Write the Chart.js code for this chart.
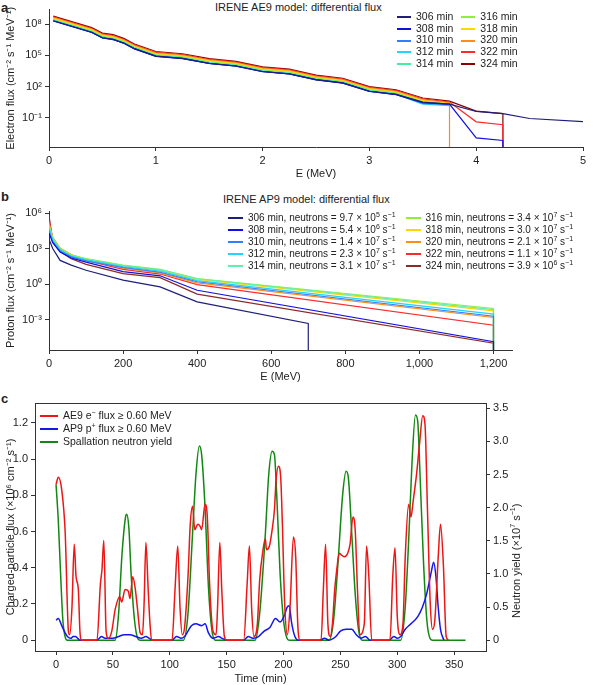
<!DOCTYPE html>
<html><head><meta charset="utf-8">
<script src="https://cdn.jsdelivr.net/npm/chart.js@4.4.1/dist/chart.umd.min.js"></script>
<style>
body{margin:0;background:#fff;font-family:"Liberation Sans",Arial,sans-serif;color:#222;overflow:hidden}
canvas{position:absolute;left:0}
.lab{position:absolute;font-weight:bold;font-size:13px}
.ttl{position:absolute;font-size:11px}
.leg{position:absolute;display:grid;grid-auto-flow:column;white-space:nowrap}
.leg span i{display:inline-block;height:0;border-top:2px solid;vertical-align:middle;margin-right:5px}
sup{font-size:7px;line-height:0}
.rot{position:absolute;font-size:11px;transform:rotate(-90deg);transform-origin:left top;white-space:nowrap}
</style></head><body>
<div class="lab" style="left:1px;top:0">a</div>
<div class="lab" style="left:1px;top:189px">b</div>
<div class="lab" style="left:1px;top:391px">c</div>
<div class="ttl" style="left:215px;top:1px">IRENE AE9 model: differential flux</div>
<div class="ttl" style="left:223px;top:193px">IRENE AP9 model: differential flux</div>
<canvas id="chartA" style="top:0" width="598" height="185"></canvas>
<canvas id="chartB" style="top:190px" width="598" height="198"></canvas>
<canvas id="chartC" style="top:390px" width="598" height="300"></canvas>
<div class="rot" style="left:510px;top:618px">Neutron yield (×10<sup>7</sup> s<sup>−1</sup>)</div>
<div class="leg" id="legA" style="left:397px;top:11px;grid-template-rows:repeat(5,11.7px);column-gap:8px;font-size:10.5px;line-height:11.7px"></div>
<div class="leg" id="legB" style="left:228px;top:212px;grid-template-rows:repeat(5,12px);column-gap:10px;font-size:10px;line-height:12px"></div>
<div class="leg" id="legC" style="left:40px;top:409px;grid-template-rows:repeat(3,13px);font-size:10.5px;line-height:13px"></div>
<script>
const minutes = [306, 308, 310, 312, 314, 316, 318, 320, 322, 324];
const colorsA = ['#1f1f7a', '#1010e0', '#2f7fff', '#22d4ff', '#40f0a0', '#90ee40', '#ffd700', '#ff8c1a', '#ff2a2a', '#8b0000'];
const colorsB = ['#1f1f7a', '#1010e0', '#2f7fff', '#22d4ff', '#60f0b0', '#90ee40', '#ffd700', '#ff8c1a', '#ff2a2a', '#8b2a2a'];
const neutronText = ['9.7 × 10<sup>5</sup>', '5.4 × 10<sup>6</sup>', '1.4 × 10<sup>7</sup>', '2.3 × 10<sup>7</sup>', '3.1 × 10<sup>7</sup>',
  '3.4 × 10<sup>7</sup>', '3.0 × 10<sup>7</sup>', '2.1 × 10<sup>7</sup>', '1.1 × 10<sup>7</sup>', '3.9 × 10<sup>6</sup>'];

// panel a: electron energies (MeV) and log10 flux
const energyA = [0.04, 0.4, 0.5, 0.6, 0.7, 0.8, 1.0, 1.25, 1.5, 1.75, 2.0, 2.25, 2.5, 2.75, 3.0, 3.25, 3.5, 3.75];
const logFluxA = [
  [8.34,7.23,6.7,6.55,6.19,5.65,4.93,4.71,4.24,3.98,3.45,3.23,2.66,2.35,1.55,1.24,0.5,0.3],
  [8.32,7.21,6.68,6.53,6.17,5.63,4.91,4.69,4.22,3.96,3.43,3.21,2.64,2.33,1.53,1.22,0.45,0.3],
  [8.34,7.23,6.7,6.55,6.19,5.65,4.93,4.71,4.24,3.98,3.45,3.23,2.66,2.35,1.55,1.24,0.38,0.25],
  [8.37,7.26,6.73,6.58,6.22,5.68,4.96,4.74,4.27,4.01,3.48,3.26,2.69,2.38,1.58,1.27,0.3,0.15],
  [8.41,7.3,6.77,6.62,6.26,5.72,5.0,4.78,4.31,4.05,3.52,3.3,2.73,2.42,1.62,1.31,0.4,0.2],
  [8.49,7.38,6.85,6.7,6.34,5.8,5.08,4.86,4.39,4.13,3.6,3.38,2.81,2.5,1.7,1.39,0.55,0.29],
  [8.57,7.46,6.93,6.78,6.42,5.88,5.16,4.94,4.47,4.21,3.68,3.46,2.89,2.58,1.78,1.47,0.64,0.37],
  [8.64,7.53,7.0,6.85,6.49,5.95,5.23,5.01,4.54,4.28,3.75,3.53,2.96,2.65,1.85,1.54,0.72,0.44],
  [8.71,7.6,7.07,6.92,6.56,6.02,5.3,5.08,4.61,4.35,3.82,3.6,3.03,2.72,1.92,1.61,0.82,0.51],
  [8.79,7.68,7.15,7.0,6.64,6.1,5.38,5.16,4.69,4.43,3.9,3.68,3.11,2.8,2.0,1.69,0.9,0.59]
];
// tails beyond 3.75 MeV: [E, log10 flux]; 'drop' = falls off the axis
const tailA = [
  [[4.0,-0.4],[4.25,-0.61],[4.5,-1.08],[5.0,-1.37]],
  [[4.0,-2.95],[4.25,-3.2],'drop'],
  [], [], [], [], [], ['drop'],
  [[4.0,-1.4],[4.25,-1.68],'drop'],
  [[4.0,-0.36],[4.25,-0.61],'drop']
];

// panel b: proton energies (MeV) and log10 flux
const energyB = [0, 10, 30, 60, 100, 200, 300, 400, 1200];
const logFluxB = [
  [3.8,3.0,2.0,1.6,1.17,0.33,-0.24,-1.5],
  [4.3,3.5,2.7,2.2,1.85,1.05,0.7,-0.52,-4.87],
  [4.5,3.55,2.8,2.3,1.95,1.4,1.0,0.2,-2.71],
  [4.7,3.7,2.9,2.35,2.05,1.48,1.1,0.3,-2.54],
  [4.9,3.8,2.95,2.4,2.12,1.57,1.22,0.45,-2.15],
  [5.0,3.9,3.0,2.45,2.15,1.6,1.25,0.47,-2.06],
  [5.0,3.85,3.0,2.45,2.12,1.55,1.18,0.4,-2.26],
  [5.2,3.95,3.05,2.5,2.1,1.35,0.95,0.1,-2.82],
  [5.4,3.9,2.95,2.4,2.0,1.25,0.85,-0.05,-3.47],
  [5.8,3.6,2.75,2.15,1.67,0.89,0.55,-0.85,-5.0]
];
const lastB306 = [700, -3.33];

// panel c: [time (min), value]
const aeFlux = [[0,0.86],[2,0.9],[5,0.83],[8,0.6],[11,0.04],[12,0.03],[14,0.18],[16,0.53],[17.6,0.35],[19.6,0.28],[21,0.05],[22.5,0],
  [36,0],[39,0.31],[40.4,0.39],[42,0.55],[44,0.05],[46,0.01],[49,0.05],[52,0.17],[56,0.24],[57.7,0.21],[60.7,0.28],[63.6,0.27],[65,0.23],[67.4,0.35],[69.5,0.29],[71.5,0.18],[74,0.04],[76,0.03],[77.4,0.2],[79,0.54],[81,0.28],[82.6,0.09],[84,0],
  [102,0],[104.6,0.28],[107,0.52],[109,0.18],[111,0.03],[113,0.07],[116,0.35],[118,0.64],[120,0.74],[122,0.61],[124.6,0.64],[126.6,0.63],[128,0.61],[131,0.75],[133,0.68],[135,0.31],[138,0.05],[140.7,0.03],[142,0.18],[144,0.54],[145.7,0.28],[148,0.02],[150,0],
  [165,0],[168,0.31],[170,0.52],[172,0.17],[174,0.02],[177,0.09],[179,0.33],[182,0.5],[184,0.56],[185,0.5],[187.6,0.52],[190,0.61],[192,0.72],[193.4,0.88],[195.5,0.96],[197.5,0.9],[199,0.64],[201,0.2],[203.4,0.03],[205.7,0.18],[208.7,0.57],[210.7,0.46],[212.5,0.09],[214.5,0],
  [233,0],[235,0.28],[237,0.53],[239,0.09],[241,0.02],[243,0.09],[245,0.28],[247,0.4],[249,0.48],[251,0.47],[253.5,0.46],[256.4,0.48],[258.5,0.53],[261,0.68],[263,0.61],[265,0.28],[267,0.03],[271,0.09],[273,0.52],[275,0.35],[277.5,0],
  [293.6,0],[296,0.35],[298,0.51],[300,0.13],[302.5,0.03],[305,0.09],[307,0.46],[310,0.75],[312,0.68],[314,0.77],[317,0.92],[319.5,1.08],[322.4,1.24],[324.4,1.19],[326.5,0.73],[329,0.2],[331,0.06],[333,0.11],[336,0.46],[338,0.64],[340.5,0.42],[343,0.02],[345,0]];
const apFlux = [[0,0.11],[2,0.12],[5,0.08],[8,0.04],[10,0.02],[13,0.01],[15,0.02],[17,0.02],[19,0.01],[21,0],[36,0],[40,0.02],[43,0.01],[50,0.01],[55,0.02],[60,0.03],[65,0.03],[70,0.02],[75,0.01],[79,0.02],[82,0.01],[85,0],
  [102,0],[106,0.02],[110,0.01],[113,0.02],[116,0.05],[119,0.08],[123,0.09],[128,0.08],[131,0.09],[134,0.04],[138,0.01],[143,0.02],[146,0.01],[150,0],
  [165,0],[169,0.02],[173,0.01],[178,0.02],[183,0.05],[188,0.07],[193,0.12],[197,0.1],[201,0.14],[203,0.18],[205,0.19],[207,0.1],[210,0.02],[213,0],
  [232,0],[236,0.01],[240,0],[246,0.02],[250,0.05],[255,0.06],[260,0.06],[264,0.03],[268,0.01],[272,0.02],[276,0],
  [293,0],[297,0.02],[300,0.01],[303,0.02],[307,0.06],[312,0.09],[318,0.13],[322,0.18],[326,0.26],[330,0.38],[332,0.43],[334,0.35],[336,0.18],[338,0.06],[341,0]];
const neutronYield = [[0,2.35],[2,1.8],[4,1.0],[6,0.3],[8,0.05],[10,0],[52,0],[55,0.4],[58,1.3],[61,1.85],[62,1.9],[64,1.7],[66,1.0],[69,0.3],[72,0.02],[74,0],
  [112,0],[116,0.4],[120,1.6],[123,2.5],[126,2.93],[128,2.8],[131,2.0],[134,0.8],[137,0.15],[140,0],
  [175,0],[179,0.4],[184,1.6],[187,2.5],[190,2.85],[192,2.8],[194,2.2],[197,1.0],[200,0.3],[203,0.03],[205,0],
  [240,0],[244,0.3],[248,1.2],[252,2.2],[255,2.55],[257,2.45],[260,1.6],[263,0.7],[266,0.15],[269,0],
  [303,0],[307,0.5],[310,1.5],[313,2.7],[316,3.4],[318,3.3],[320,2.5],[323,1.2],[326,0.3],[329,0.02],[331,0],[360,0]];

Chart.defaults.font.family = '"Liberation Sans", Arial, sans-serif';
Chart.defaults.font.size = 11;
Chart.defaults.color = '#222';
Chart.defaults.animation = false;
Chart.defaults.responsive = false;

const sup = {'-':'⁻','0':'⁰','1':'¹','2':'²','3':'³','4':'⁴','5':'⁵','6':'⁶','7':'⁷','8':'⁸','9':'⁹'};
const pow10 = v => '10' + String(Math.round(Math.log10(v))).split('').map(c => sup[c]).join('');
const DROP = 1e-9;

function axisStyle(extra) {
  return Object.assign({
    border: {display: true, color: '#333', width: 1},
    grid: {display: true, drawOnChartArea: false, drawTicks: true, tickLength: 4, color: '#333'},
    ticks: {color: '#222', padding: 3, font: {size: 11}}
  }, extra);
}
function fixSize(w, h) {
  return function (s) { if (w) s.width = w; if (h) s.height = h; };
}
function fixedTicks(vals) {
  return function (s) { s.ticks = vals.map(v => ({value: v})); };
}

// ---- panel a
const dsA = minutes.map((m, i) => {
  const pts = energyA.map((e, j) => ({x: e, y: Math.pow(10, logFluxA[i][j])}));
  let lastX = 3.75;
  tailA[i].forEach(p => {
    if (p === 'drop') pts.push({x: lastX, y: DROP});
    else { pts.push({x: p[0], y: Math.pow(10, p[1])}); lastX = p[0]; }
  });
  return {label: m + ' min', data: pts, borderColor: colorsA[i], borderWidth: 1.2, pointRadius: 0, tension: 0, order: i};
});
new Chart(document.getElementById('chartA'), {
  type: 'line',
  data: {datasets: dsA},
  options: {
    layout: {padding: {top: 5, right: 15, left: 0}},
    plugins: {legend: {display: false}, tooltip: {enabled: false}},
    scales: {
      x: axisStyle({type: 'linear', min: 0, max: 5, afterFit: fixSize(0, 38),
        afterBuildTicks: fixedTicks([0, 1, 2, 3, 4, 5]),
        title: {display: true, text: 'E (MeV)', padding: {top: 6}}}),
      y: axisStyle({type: 'logarithmic', min: 1.5e-4, max: 2.6e9, afterFit: fixSize(49, 0),
        afterBuildTicks: fixedTicks([1e-1, 1e2, 1e5, 1e8]),
        ticks: {callback: pow10, color: '#222', padding: 3},
        title: {display: true, text: 'Electron flux (cm⁻² s⁻¹ MeV⁻¹)', padding: {bottom: 1}}})
    }
  }
});

// ---- panel b
const dsB = minutes.map((m, i) => {
  const pts = logFluxB[i].map((v, j) => ({x: energyB[j], y: Math.pow(10, v)}));
  if (i === 0) {
    pts.push({x: lastB306[0], y: Math.pow(10, lastB306[1])});
    pts.push({x: lastB306[0], y: DROP});
  } else pts.push({x: 1200, y: DROP});
  return {label: m + ' min', data: pts, borderColor: colorsB[i], borderWidth: 1.2, pointRadius: 0, tension: 0, order: i};
});
new Chart(document.getElementById('chartB'), {
  type: 'line',
  data: {datasets: dsB},
  options: {
    layout: {padding: {top: 21, right: 86, left: 0}},
    plugins: {legend: {display: false}, tooltip: {enabled: false}},
    scales: {
      x: axisStyle({type: 'linear', min: 0, max: 1250, afterFit: fixSize(0, 38),
        afterBuildTicks: fixedTicks([0, 200, 400, 600, 800, 1000, 1200]),
        ticks: {color: '#222', padding: 3, autoSkip: false, maxRotation: 0, callback: v => v.toLocaleString('en-US')},
        title: {display: true, text: 'E (MeV)', padding: {top: 6}}}),
      y: axisStyle({type: 'logarithmic', min: 2.7e-6, max: 1.5e6, afterFit: fixSize(49, 0),
        afterBuildTicks: fixedTicks([1e-3, 1, 1e3, 1e6]),
        ticks: {callback: pow10, color: '#222', padding: 3},
        title: {display: true, text: 'Proton flux (cm⁻² s⁻¹ MeV⁻¹)', padding: {bottom: 1}}})
    }
  }
});

// ---- panel c
const boxPlugin = {
  id: 'box',
  afterDraw(c) {
    const a = c.chartArea, x = c.ctx;
    x.save(); x.strokeStyle = '#333'; x.lineWidth = 1;
    x.strokeRect(a.left + 0.5, a.top + 0.5, a.right - a.left, a.bottom - a.top);
    x.restore();
  }
};
const lineC = (label, pts, color, axis) => ({label, data: pts.map(p => ({x: p[0], y: p[1]})), borderColor: color,
  borderWidth: 1.5, pointRadius: 0, cubicInterpolationMode: 'monotone', yAxisID: axis});
new Chart(document.getElementById('chartC'), {
  type: 'line',
  data: {datasets: [
    lineC('AE9 e⁻ flux ≥ 0.60 MeV', aeFlux, '#ee1515', 'y'),
    lineC('AP9 p⁺ flux ≥ 0.60 MeV', apFlux, '#1515ee', 'y'),
    lineC('Spallation neutron yield', neutronYield, '#118811', 'y2')
  ]},
  options: {
    layout: {padding: {top: 13, right: 60, left: 0}},
    plugins: {legend: {display: false}, tooltip: {enabled: false}},
    scales: {
      x: axisStyle({type: 'linear', min: -18.5, max: 378, afterFit: fixSize(0, 39),
        afterBuildTicks: fixedTicks([0, 50, 100, 150, 200, 250, 300, 350]),
        title: {display: true, text: 'Time (min)', padding: {top: 5}}}),
      y: axisStyle({type: 'linear', min: -0.06, max: 1.31, afterFit: fixSize(35, 0),
        afterBuildTicks: fixedTicks([0, 0.2, 0.4, 0.6, 0.8, 1.0, 1.2]),
        ticks: {color: '#222', padding: 3, callback: v => v === 0 ? '0' : v.toFixed(1)},
        title: {display: true, text: 'Charged-particle flux (×10⁶ cm⁻² s⁻¹)', padding: {bottom: 1}}}),
      y2: axisStyle({type: 'linear', position: 'right', min: -0.164, max: 3.58, afterFit: fixSize(52, 0),
        afterBuildTicks: fixedTicks([0, 0.5, 1.0, 1.5, 2.0, 2.5, 3.0, 3.5]),
        ticks: {color: '#222', padding: 3, callback: v => v === 0 ? '0' : v.toFixed(1)}})
    }
  },
  plugins: [boxPlugin]
});

// legends
const legA = document.getElementById('legA');
minutes.forEach((m, i) => {
  legA.insertAdjacentHTML('beforeend', `<span><i style="width:14px;border-color:${colorsA[i]}"></i>${m} min</span>`);
});
const legB = document.getElementById('legB');
minutes.forEach((m, i) => {
  legB.insertAdjacentHTML('beforeend', `<span><i style="width:15px;border-color:${colorsB[i]}"></i>${m} min, neutrons = ${neutronText[i]} s<sup>−1</sup></span>`);
});
const legC = document.getElementById('legC');
[['AE9 e<sup>−</sup> flux ≥ 0.60 MeV', '#ee1515'], ['AP9 p<sup>+</sup> flux ≥ 0.60 MeV', '#1515ee'], ['Spallation neutron yield', '#118811']]
  .forEach(l => legC.insertAdjacentHTML('beforeend', `<span><i style="border-color:${l[1]};width:18px"></i>${l[0]}</span>`));
</script>
</body></html>
